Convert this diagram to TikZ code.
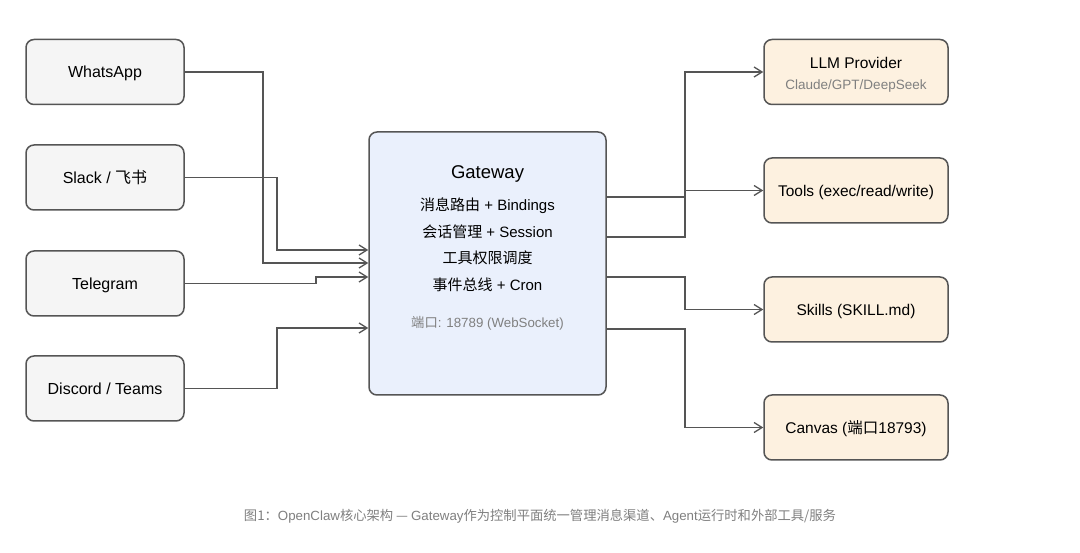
\documentclass[tikz,border=0pt]{standalone}
\usepackage{fontspec}
\setmainfont{Liberation Sans}
\newfontfamily\cjk{Noto Sans CJK SC}
\usetikzlibrary{arrows.meta}
\definecolor{edge}{HTML}{555555}
\definecolor{leftfill}{HTML}{F5F5F5}
\definecolor{gwfill}{HTML}{EAF0FC}
\definecolor{rightfill}{HTML}{FDF1E0}
\definecolor{subgray}{HTML}{808080}
\tikzset{
  txt/.style={inner sep=0pt, text height=#1, text depth=0pt},
  box/.style={draw=edge, line width=1.5pt, rounded corners=8pt, inner sep=0pt, align=center},
  leftbox/.style={box, fill=leftfill, minimum width=158pt, minimum height=65pt, font=\fontsize{16}{19}\selectfont, text height=11.5pt, text depth=0pt},
  rightbox/.style={box, fill=rightfill, minimum width=184pt, minimum height=65pt, font=\fontsize{15.5}{18}\selectfont, text height=11.2pt, text depth=0pt},
  conn/.style={draw=edge, line width=1.3pt, -{Straight Barb[length=8pt,width=10pt,line width=1.3pt]}},
}
\begin{document}
\begin{tikzpicture}[x=1pt,y=-1pt]
\useasboundingbox (0,0) rectangle (1080,553);
\fill[white] (0,0) rectangle (1080,553);

% left channel boxes
\node[leftbox] (wa) at (105,72) {WhatsApp};
\node[leftbox] (sl) at (105,177.5) {Slack / {\cjk 飞书}};
\node[leftbox] (tg) at (105,283.5) {Telegram};
\node[leftbox] (dc) at (105,388.5) {Discord / Teams};

% gateway
\node[box, fill=gwfill, minimum width=237pt, minimum height=263pt] (gw) at (487.5,263.5) {};
\node[txt=13.3pt, font=\fontsize{18.5}{21}\selectfont] (gwt) at (487.5,171.5) {Gateway};
\node[txt=10.8pt, font=\fontsize{15}{18}\selectfont] (g1) at (487.5,205.5) {{\cjk 消息路由} + Bindings};
\node[txt=10.8pt, font=\fontsize{15}{18}\selectfont] (g2) at (487.5,232) {{\cjk 会话管理} + Session};
\node[txt=10.8pt, font=\fontsize{15}{18}\selectfont] (g3) at (487.5,258) {\cjk 工具权限调度};
\node[txt=10.8pt, font=\fontsize{15}{18}\selectfont] (g4) at (487.5,285) {{\cjk 事件总线} + Cron};
\node[txt=9.6pt, font=\fontsize{13.3}{16}\selectfont, text=subgray] (g5) at (487.5,322.5) {{\cjk 端口}: 18789 (WebSocket)};

% right boxes
\node[rightbox] (llm) at (856,72) {};
\node[txt=11.2pt, font=\fontsize{15.5}{18}\selectfont] (llmt) at (856,63) {LLM Provider};
\node[txt=9.7pt, font=\fontsize{13.5}{16}\selectfont, text=subgray] (llms) at (856,85) {Claude/GPT/DeepSeek};
\node[rightbox] (tools) at (856,190.5) {Tools (exec/read/write)};
\node[rightbox] (skills) at (856,309.5) {Skills (SKILL.md)};
\node[rightbox] (canvas) at (856,427.5) {Canvas ({\cjk 端口}18793)};

% left connectors
\draw[conn] (wa.east) -- (263,72) |- (gw.west |- 0,263);
\draw[conn] (sl.east) -- (277,177.5) |- (gw.west |- 0,250);
\draw[conn] (tg.east) -- (316,283.5) -- (316,277) -- (gw.west |- 0,277);
\draw[conn] (dc.east) -- (277,388.5) |- (gw.west |- 0,328);

% right connectors
\draw[conn] (gw.east |- 0,197) -- (685,197) |- (llm.west);
\draw[conn] (gw.east |- 0,237) -- (685,237) |- (tools.west);
\draw[conn] (gw.east |- 0,277) -- (685,277) |- (skills.west);
\draw[conn] (gw.east |- 0,329) -- (685,329) |- (canvas.west);

% caption
\node[txt=9.6pt, font=\fontsize{13.3}{16}\selectfont, text=subgray] (cap) at (540,515.5)
  {{\cjk 图1：}OpenClaw{\cjk 核心架构 — }Gateway{\cjk 作为控制平面统一管理消息渠道、}Agent{\cjk 运行时和外部工具/服务}};
\end{tikzpicture}
\end{document}
